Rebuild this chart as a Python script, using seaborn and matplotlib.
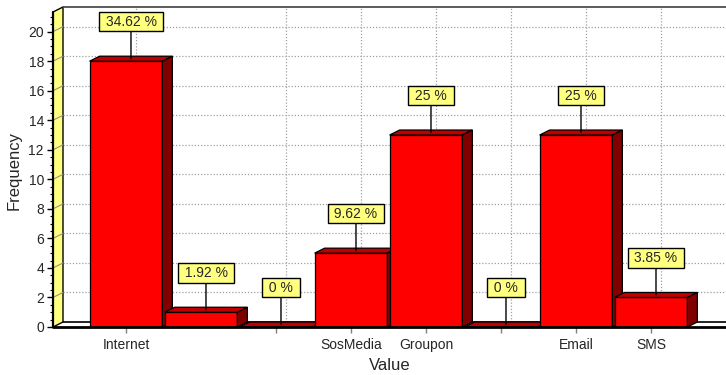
import matplotlib
matplotlib.use("Agg")
import matplotlib.pyplot as plt
from matplotlib.patches import Polygon
from matplotlib.ticker import FixedLocator
import numpy as np
import pandas as pd
import seaborn as sns

# Frequency table of the "Value" variable
categories = ["Internet", "", "", "SosMedia", "Groupon", "", "Email", "SMS"]
frequencies = [18, 1, 0, 5, 13, 0, 13, 2]
percents = [34.62, 1.92, 0, 9.62, 25, 0, 25, 3.85]
y_major_ticks = [0, 2, 4, 6, 8, 10, 12, 14, 16, 18, 20]
x_tick_slots = [0, 2, 3, 4, 5, 6, 7]

sns.set_style("white")
plt.rcParams["font.family"] = ["Liberation Sans", "DejaVu Sans"]

W, H = 726, 375
fig = plt.figure(figsize=(W / 100, H / 100), dpi=100)
ax = fig.add_axes([53 / W, 48 / H, 673 / W, 320 / H])

X_LEFT, X_RIGHT = -0.973, 8.0
Y_TOP = 21.67
DX, DY = 10 / 75, 5 / 14.77          # depth of the pseudo-3D effect (data units)

FRONT, TOP, SIDE = "#FF0000", "#C00000", "#800000"
WALL = "#FFFF80"

df = pd.DataFrame({"pos": range(len(categories)), "freq": frequencies})
sns.barplot(data=df, x="pos", y="freq", order=list(range(len(categories))),
            width=0.97, color=FRONT, saturation=1, edgecolor="black",
            linewidth=0.9, errorbar=None, ax=ax)

ax.set_xlim(X_LEFT, X_RIGHT)
ax.set_ylim(0, Y_TOP)
for s in ax.spines.values():
    s.set_visible(False)

# back-wall grid
grid_kw = dict(color="#a0a0a0", lw=0.9, ls=(0, (1, 1.5)), zorder=1)
for y in y_major_ticks[1:]:
    ax.plot([X_LEFT + DX, X_RIGHT], [y + DY, y + DY], **grid_kw)
for i in x_tick_slots:
    ax.plot([i + DX, i + DX], [DY, Y_TOP], **grid_kw)

# left side wall
wall = Polygon([(X_LEFT, 0), (X_LEFT + DX, DY), (X_LEFT + DX, Y_TOP),
                (X_LEFT, Y_TOP - DY)], closed=True, fc=WALL, ec="black",
               lw=1.0, zorder=2, clip_on=False)
ax.add_patch(wall)
for y in y_major_ticks[1:]:
    ax.plot([X_LEFT, X_LEFT + DX], [y, y + DY], color="#909090", lw=0.8,
            zorder=2.1, clip_on=False)
ax.plot([X_LEFT, X_LEFT], [0, Y_TOP - DY], color="black", lw=1.6,
        zorder=2.2, clip_on=False)

# floor and top border
ax.plot([X_LEFT + DX, X_RIGHT], [DY, DY], color="black", lw=1.2, zorder=2)
ax.plot([X_LEFT + DX, X_RIGHT], [Y_TOP, Y_TOP], color="#404040", lw=1.2,
        zorder=2, clip_on=False)
ax.plot([X_LEFT, X_RIGHT], [0, 0], color="black", lw=2.0, zorder=20,
        clip_on=False)

# depth faces of each bar
for i, (patch, f) in enumerate(zip(ax.patches, frequencies)):
    z = 3 + i * 0.1
    patch.set_zorder(z)
    x0 = patch.get_x()
    x1 = x0 + patch.get_width()
    top = Polygon([(x0, f), (x0 + DX, f + DY), (x1 + DX, f + DY), (x1, f)],
                  closed=True, fc=TOP, ec="black", lw=0.9, zorder=z + 0.01)
    ax.add_patch(top)
    if f > 0:
        side = Polygon([(x1, 0), (x1 + DX, DY), (x1 + DX, f + DY), (x1, f)],
                       closed=True, fc=SIDE, ec="black", lw=0.9, zorder=z + 0.01)
        ax.add_patch(side)

# percentage call-outs
for i, (f, p) in enumerate(zip(frequencies, percents)):
    ax.annotate(f" {p:g} % ", xy=(i + DX / 2, f + DY / 2),
                xytext=(0, 37 * 0.72), textcoords="offset points",
                ha="center", va="center", fontsize=10, zorder=15,
                bbox=dict(boxstyle="square,pad=0.2", fc=WALL, ec="black", lw=1.0),
                arrowprops=dict(arrowstyle="-", color="black", lw=1.0,
                                shrinkA=0, shrinkB=0))

# axes ticks
ax.set_xticks(x_tick_slots)
ax.set_xticklabels([categories[i] for i in x_tick_slots])
ax.tick_params(axis="x", bottom=True, length=4, width=1, color="#808080",
               pad=4, labelsize=10)
ax.yaxis.set_major_locator(FixedLocator(y_major_ticks))
ax.yaxis.set_minor_locator(FixedLocator(np.arange(0, 21.01, 0.5)))
ax.tick_params(axis="y", which="major", left=True, length=4.5, width=1,
               color="black", pad=2, labelsize=10)
ax.tick_params(axis="y", which="minor", left=True, length=2.2, width=0.8,
               color="black")

ax.set_xlabel("Value", fontsize=12)
ax.set_ylabel("Frequency", fontsize=12)
ax.xaxis.set_label_coords(0.5, (327 - 365) / 320)
ax.xaxis.label.set_va("center")
ax.yaxis.set_label_coords((14 - 53) / 673, (327 - 170) / 320)
ax.yaxis.label.set_va("center")

fig.savefig("out.png", dpi=100)
